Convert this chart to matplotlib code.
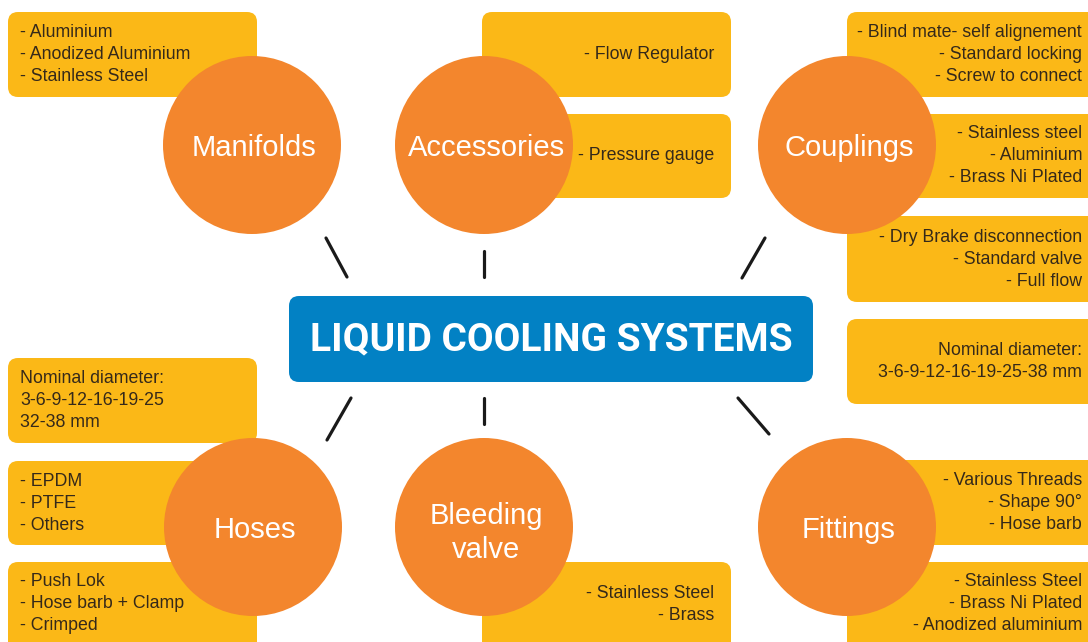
import matplotlib.pyplot as plt
from matplotlib.patches import FancyBboxPatch, Circle

# data
TITLE = "LIQUID COOLING SYSTEMS"
categories = ["Manifolds", "Accessories", "Couplings", "Hoses", "Bleeding\nvalve", "Fittings"]

manifolds_items = [["- Aluminium", "- Anodized Aluminium", "- Stainless Steel"]]
accessories_items = [["- Flow Regulator"], ["- Pressure gauge"]]
couplings_items = [
    ["- Blind mate- self alignement", "- Standard locking", "- Screw to connect"],
    ["- Stainless steel", "- Aluminium", "- Brass Ni Plated"],
    ["- Dry Brake disconnection", "- Standard valve", "- Full flow"],
]
hoses_items = [
    ["Nominal diameter:", "3-6-9-12-16-19-25", "32-38 mm"],
    ["- EPDM", "- PTFE", "- Others"],
    ["- Push Lok", "- Hose barb + Clamp", "- Crimped"],
]
bleeding_items = [["- Stainless Steel", "- Brass"]]
fittings_items = [
    ["Nominal diameter:", "3-6-9-12-16-19-25-38 mm"],
    ["- Various Threads", "- Shape 90°", "- Hose barb"],
    ["- Stainless Steel", "- Brass Ni Plated", "- Anodized aluminium"],
]

# colours
YELLOW = "#FBB817"
ORANGE = "#F3862D"
BLUE = "#0281C4"
TXT = "#35291a"
FONT = "Liberation Sans"

fig = plt.figure(figsize=(10.88, 6.42), dpi=100)
ax = fig.add_axes([0, 0, 1, 1])
ax.set_xlim(0, 1088)
ax.set_ylim(642, 0)
ax.axis("off")


def box(x0, y0, x1, y1, color=YELLOW, r=10, z=1):
    p = FancyBboxPatch((x0 + r, y0 + r), x1 - x0 - 2 * r, y1 - y0 - 2 * r,
                       boxstyle=f"round,pad={r}", fc=color, ec="none", zorder=z)
    ax.add_patch(p)


def lines(items, x, ys, ha):
    for t, y in zip(items, ys):
        ax.text(x, y, t, ha=ha, va="center", fontsize=12.8, color=TXT,
                family=FONT, zorder=5)


# yellow boxes: (x0, y0, x1, y1), text x, align
groups = [
    (manifolds_items, [(8, 12, 257, 97)], 20, "left"),
    (accessories_items, [(482, 12, 731, 97), (482, 114, 731, 198)], 714, "right"),
    (couplings_items, [(847, 12, 1100, 97), (847, 114, 1100, 198), (847, 216, 1100, 302)], 1082, "right"),
    (hoses_items, [(8, 358, 257, 443), (8, 461, 257, 545), (8, 562, 257, 660)], 20, "left"),
    (bleeding_items, [(482, 562, 731, 660)], 714, "right"),
    (fittings_items, [(847, 319, 1100, 404), (847, 460, 1100, 545), (847, 562, 1100, 660)], 1082, "right"),
]
for items, rects, tx, ha in groups:
    for its, (x0, y0, x1, y1) in zip(items, rects):
        box(x0, y0, x1, y1)
        n = len(its)
        if y1 > 642:
            ys = [y0 + 19 + 22 * i for i in range(n)]
            if n == 2:
                ys = [y0 + 31 + 22 * i for i in range(n)]
        else:
            yc = (y0 + y1) / 2
            ys = [yc + 22 * (i - (n - 1) / 2) for i in range(n)]
        lines(its, tx, ys, ha)

# circles
centers = [(252, 145), (484, 145), (847, 145), (253, 527), (484, 527), (847, 527)]
for name, (cx, cy) in zip(categories, centers):
    ax.add_patch(Circle((cx, cy), 89, fc=ORANGE, ec="none", zorder=3))
    dy = 6 if "\n" in name else 3
    ax.text(cx + 2, cy + dy, name, ha="center", va="center", fontsize=21, color="white",
            family=FONT, zorder=6, linespacing=1.25)

# connectors
connectors = [((326, 238), (347, 277)), ((484, 251), (484, 277)), ((765, 238), (742, 278)),
              ((351, 398), (327, 440)), ((484, 398), (484, 424)), ((738, 398), (769, 434))]
for (x0, y0), (x1, y1) in connectors:
    ax.plot([x0, x1], [y0, y1], color="#1a1a1a", lw=2.3, solid_capstyle="round", zorder=2)

# central title
box(289, 296, 813, 382, color=BLUE, r=10, z=2)
ax.text(551, 340, TITLE, ha="center", va="center", fontsize=28, fontweight="bold",
        color="white", family="Roboto", zorder=6)

fig.savefig("out.png", dpi=100, facecolor="white")
